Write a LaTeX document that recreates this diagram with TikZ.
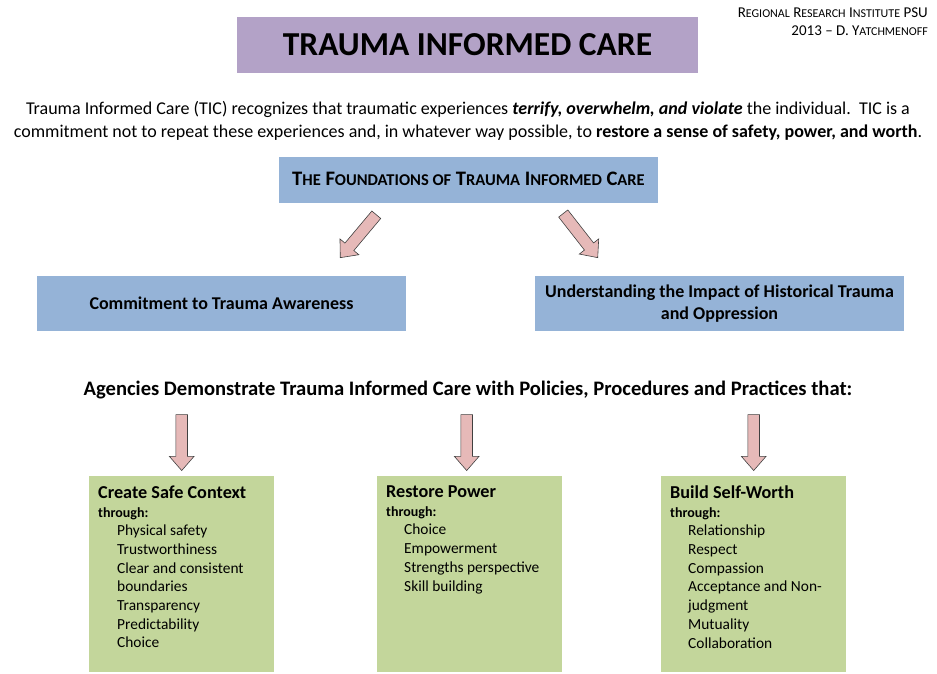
\documentclass[tikz,border=0pt]{standalone}
\usepackage{fontspec}
\setmainfont{Carlito}
\usetikzlibrary{calc, positioning, shapes.arrows}

\definecolor{ticpurple}{HTML}{B3A2C7}
\definecolor{ticblue}{HTML}{95B3D7}
\definecolor{ticgreen}{HTML}{C3D69B}
\definecolor{ticpink}{HTML}{E6B9B8}

% Word-like small caps (Carlito has none)
\makeatletter
\newlength\sctmp
\newcommand\lowsc[1]{\sctmp=\f@size pt\sctmp=0.8\sctmp{\fontsize{\strip@pt\sctmp}{\strip@pt\sctmp}\selectfont #1}}
\makeatother

\tikzset{
  titlebox/.style={fill=ticpurple, minimum width=461pt, minimum height=56pt, inner sep=0pt,
    font=\fontsize{33.5}{38}\selectfont\bfseries},
  bluebox/.style={fill=ticblue, inner sep=0pt, align=center,
    font=\fontsize{18}{22}\selectfont\bfseries},
  greenbox/.style={fill=ticgreen, minimum width=185pt, minimum height=196pt, inner sep=0pt},
  greentext/.style={anchor=north west, inner sep=0pt, align=left,
    font=\fontsize{15.4}{18.7}\selectfont},
  blockarrow/.style={single arrow, draw=black!75, fill=ticpink, line width=0.6pt,
    minimum height=56pt, minimum width=24pt, single arrow head extend=6.5pt,
    single arrow tip angle=82, inner xsep=0pt, inner ysep=5.5pt},
}

\begin{document}
\begin{tikzpicture}[x=1pt, y=-1pt]
\useasboundingbox (0,0) rectangle (937,673);

% title and credit
\node[titlebox] (title) at (467.5,45) {TRAUMA INFORMED CARE};
\node[anchor=north east, align=right, inner sep=0pt, font=\fontsize{15}{18}\selectfont] (credit) at (928,8)
  {R\lowsc{EGIONAL} R\lowsc{ESEARCH} I\lowsc{NSTITUTE} PSU\\ 2013 -- D. Y\lowsc{ATCHMENOFF}};

% intro paragraph
\node[align=center, inner sep=0pt, font=\fontsize{18}{23}\selectfont] (intro) at (468,120.5)
  {Trauma Informed Care (TIC) recognizes that traumatic experiences \textbf{\textit{terrify, overwhelm, and violate}} the individual.\ \ TIC is a\\
   commitment not to repeat these experiences and, in whatever way possible, to \textbf{restore a sense of safety, power, and worth}.};

% foundations
\node[bluebox, minimum width=379pt, minimum height=46pt, font=\fontsize{20.6}{22}\selectfont\bfseries] (found) at (468.5,180)
  {\raisebox{3pt}{T\lowsc{HE} F\lowsc{OUNDATIONS OF} T\lowsc{RAUMA} I\lowsc{NFORMED} C\lowsc{ARE}}};
\node[bluebox, minimum width=369pt, minimum height=55pt] (commit) at (221.5,303.5)
  {\raisebox{1.5pt}{Commitment to Trauma Awareness}};
\node[bluebox, minimum width=369pt, minimum height=55pt] (hist) at (719.5,303.5)
  {Understanding the Impact of Historical Trauma\\ and Oppression};

\node[blockarrow, rotate=230, anchor=tip] (arrl) at (340,258) {};
\node[blockarrow, rotate=-52, anchor=tip] (arrr) at (598,258) {};

% practices
\node[inner sep=0pt, font=\fontsize{20.6}{24}\selectfont\bfseries] (agency) at (468,390)
  {Agencies Demonstrate Trauma Informed Care with Policies, Procedures and Practices that:};

\node[greenbox, anchor=north west] (safe) at (89,476) {};
\node[greenbox, anchor=north west] (power) at (377,476) {};
\node[greenbox, anchor=north west] (worth) at (661,476) {};

\node[blockarrow, rotate=-90, anchor=tip] (arrsafe) at ([yshift=5pt]safe.north) {};
\node[blockarrow, rotate=-90, anchor=tip] (arrpower) at ([yshift=5pt,xshift=-3pt]power.north) {};
\node[blockarrow, rotate=-90, anchor=tip] (arrworth) at ([yshift=5pt]worth.north) {};

\node[greentext] (safetxt) at ([shift={(9,9.5)}]safe.north west)
  {{\fontsize{18.2}{18.7}\selectfont\bfseries Create Safe Context}\\
   {\fontsize{14}{18.7}\selectfont\bfseries through:}\\
   \hspace*{19pt}Physical safety\\
   \hspace*{19pt}Trustworthiness\\
   \hspace*{19pt}Clear and consistent\\
   \hspace*{19pt}boundaries\\
   \hspace*{19pt}Transparency\\
   \hspace*{19pt}Predictability\\
   \hspace*{19pt}Choice};
\node[greentext] (powertxt) at ([shift={(9,9.5)}]power.north west)
  {{\fontsize{18.2}{18.7}\selectfont\bfseries Restore Power}\\
   {\fontsize{14}{18.7}\selectfont\bfseries through:}\\
   \hspace*{18pt}Choice\\
   \hspace*{18pt}Empowerment\\
   \hspace*{18pt}Strengths perspective\\
   \hspace*{18pt}Skill building};
\node[greentext] (worthtxt) at ([shift={(9,9.5)}]worth.north west)
  {{\fontsize{18.2}{18.7}\selectfont\bfseries Build Self-Worth}\\
   {\fontsize{14}{18.7}\selectfont\bfseries through:}\\
   \hspace*{18pt}Relationship\\
   \hspace*{18pt}Respect\\
   \hspace*{18pt}Compassion\\
   \hspace*{18pt}Acceptance and Non-\\
   \hspace*{18pt}judgment\\
   \hspace*{18pt}Mutuality\\
   \hspace*{18pt}Collaboration};
\end{tikzpicture}
\end{document}
